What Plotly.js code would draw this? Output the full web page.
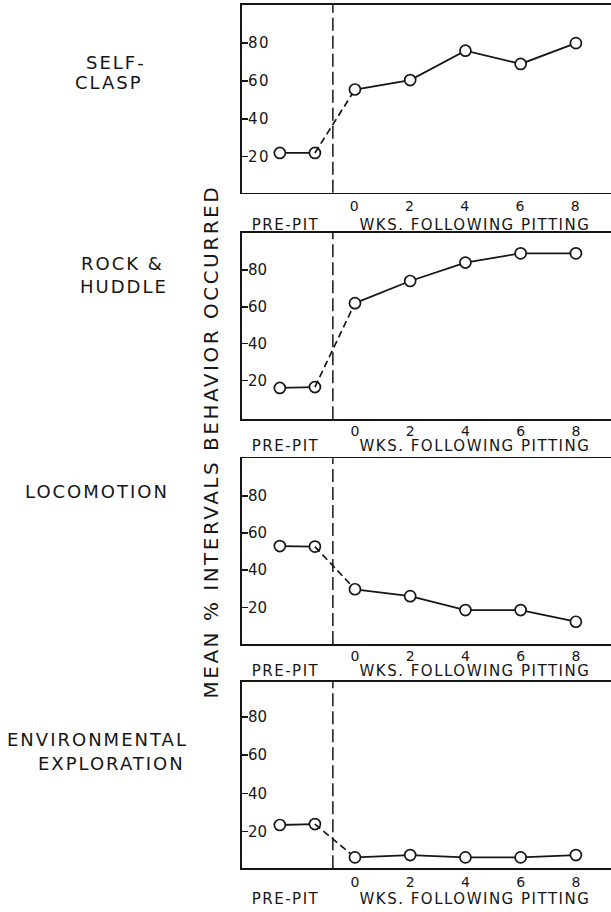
<!DOCTYPE html>
<html>
<head>
<meta charset="utf-8">
<script src="https://cdn.plot.ly/plotly-3.0.1.min.js"></script>
<style>
html,body{margin:0;padding:0;background:#fff;overflow:hidden;}
#chart{width:614px;height:912px;}
</style>
</head>
<body>
<div id="chart"></div>
<script>
// ---- data ----
const weeks = [0, 2, 4, 6, 8];
const weekLabels = ['0', '2', '4', '6', '8'];
const prePitX = [-2.72, -1.45];        // two pre-pitting sessions
const behaviors = ['SELF-CLASP', 'ROCK & HUDDLE', 'LOCOMOTION', 'ENVIRONMENTAL EXPLORATION'];
const selfClaspPre = [22, 22];
const selfClaspPost = [55.5, 60.5, 76, 69, 80];
const rockHuddlePre = [16, 16.5];
const rockHuddlePost = [62, 74, 84, 89, 89];
const locomotionPre = [53, 52.7];
const locomotionPost = [29.7, 26, 18.5, 18.5, 12.2];
const explorationPre = [23.5, 24];
const explorationPost = [6.6, 7.8, 6.6, 6.6, 7.8];
const yTickVals = [20, 40, 60, 80];
const yTickText = ['20', '40', '60', '80'];

// ---- layout helpers ----
const W = 614, H = 912, ML = 242, MR = 0;
const PW = W - ML - MR;
const px2x = p => (p - ML) / PW;
const py2y = p => 1 - p / H;
const ink = '#161616';
const FONT = 'DejaVu Sans, Liberation Sans, Arial, sans-serif';

const panels = [
  {pre: selfClaspPre, post: selfClaspPost, top: 4.7, bot: 192.7, yr: [1, 100.3], so: 0, lblY: 225},
  {pre: rockHuddlePre, post: rockHuddlePost, top: 232.7, bot: 419.3, yr: [-1, 100.2], so: -2, lblY: 446},
  {pre: locomotionPre, post: locomotionPost, top: 458.3, bot: 644, yr: [0.2, 100.3], so: -2, lblY: 671},
  {pre: explorationPre, post: explorationPost, top: 681.7, bot: 868.3, yr: [0.9, 98.3], so: 0, lblY: 899}
];

const traces = [];
const layout = {
  width: W, height: H,
  margin: {l: ML, r: MR, t: 0, b: 0},
  paper_bgcolor: '#fff', plot_bgcolor: '#fff',
  showlegend: false,
  font: {family: FONT, color: ink, size: 15},
  shapes: [], annotations: []
};

const marker = {symbol: 'circle', size: 11, color: '#fff', line: {color: ink, width: 1.7}};

panels.forEach((p, i) => {
  const n = i === 0 ? '' : String(i + 1);
  const xa = 'x' + n, ya = 'y' + n;
  // pre-pit solid segment
  traces.push({x: prePitX, y: p.pre, xaxis: xa, yaxis: ya, mode: 'lines+markers',
    line: {color: ink, width: 1.8}, marker: marker, cliponaxis: false, hoverinfo: 'skip'});
  // dashed connector across pitting
  traces.push({x: [prePitX[1], weeks[0]], y: [p.pre[1], p.post[0]], xaxis: xa, yaxis: ya, mode: 'lines',
    line: {color: ink, width: 1.7, dash: '7px,4px'}, hoverinfo: 'skip'});
  // post-pitting solid
  traces.push({x: weeks, y: p.post, xaxis: xa, yaxis: ya, mode: 'lines+markers',
    line: {color: ink, width: 1.8}, marker: marker, cliponaxis: false, hoverinfo: 'skip'});

  layout['xaxis' + n] = {
    domain: [0, 1], range: [-4.09, 9.38], anchor: ya,
    showline: true, mirror: true, linecolor: ink, linewidth: 1.7,
    showgrid: false, zeroline: false, ticks: '',
    tickmode: 'array', tickvals: weeks, ticktext: weekLabels,
    ticklabelstandoff: p.so,
    tickfont: {family: FONT, size: 14, color: ink}, fixedrange: true
  };
  layout['yaxis' + n] = {
    domain: [py2y(p.bot), py2y(p.top)], range: p.yr, anchor: xa,
    showline: true, mirror: true, linecolor: ink, linewidth: 1.7,
    showgrid: false, zeroline: false,
    ticks: 'inside', ticklen: 6, tickwidth: 1.5, tickcolor: ink,
    ticklabelposition: 'inside',
    tickmode: 'array', tickvals: yTickVals, ticktext: yTickText,
    tickfont: {family: FONT, size: 15, color: ink}, fixedrange: true
  };
  // dashed divider between pre-pit and post
  layout.shapes.push({type: 'line', xref: xa, yref: ya + ' domain', x0: -0.8, x1: -0.8, y0: 0, y1: 1,
    line: {color: ink, width: 1.5, dash: '13px,5px'}});
  // bottom labels
  layout.annotations.push({xref: 'paper', yref: 'paper', x: px2x(286), y: py2y(p.lblY),
    text: 'PRE-PIT', showarrow: false, xanchor: 'center', yanchor: 'middle',
    font: {family: FONT, size: 15, color: ink}});
  layout.annotations.push({xref: 'paper', yref: 'paper', x: px2x(475), y: py2y(p.lblY),
    text: 'WKS. FOLLOWING PITTING', showarrow: false, xanchor: 'center', yanchor: 'middle',
    font: {family: FONT, size: 15, color: ink}});
});

// behaviour labels on the left
const sideLabels = [
  {t: 'SELF-', x: 116, y: 62},
  {t: 'CLASP', x: 109, y: 82},
  {t: 'ROCK &amp;', x: 122, y: 263},
  {t: 'HUDDLE', x: 124, y: 286},
  {t: 'LOCOMOTION', x: 97, y: 491},
  {t: 'ENVIRONMENTAL', x: 97, y: 739},
  {t: 'EXPLORATION', x: 111, y: 763}
];
sideLabels.forEach(s => layout.annotations.push({xref: 'paper', yref: 'paper', x: px2x(s.x), y: py2y(s.y),
  text: s.t, showarrow: false, xanchor: 'center', yanchor: 'middle',
  font: {family: FONT, size: 18, color: ink}}));

layout.annotations.push({xref: 'paper', yref: 'paper', x: px2x(211), y: py2y(442),
  text: 'MEAN % INTERVALS BEHAVIOR OCCURRED', showarrow: false, textangle: -90,
  xanchor: 'center', yanchor: 'middle', font: {family: FONT, size: 20, color: ink}});

Plotly.newPlot('chart', traces, layout, {staticPlot: true, displayModeBar: false}).then(gd => {
  gd.querySelectorAll('.xtick text, .ytick text').forEach(el => el.style.letterSpacing = '1.5px');
  gd.querySelectorAll('.annotation text').forEach(el => {
    const fs = parseFloat(el.style.fontSize);
    el.style.letterSpacing = fs >= 20 ? '2.5px' : (fs >= 18 ? '2px' : '1.5px');
  });
});
</script>
</body>
</html>
